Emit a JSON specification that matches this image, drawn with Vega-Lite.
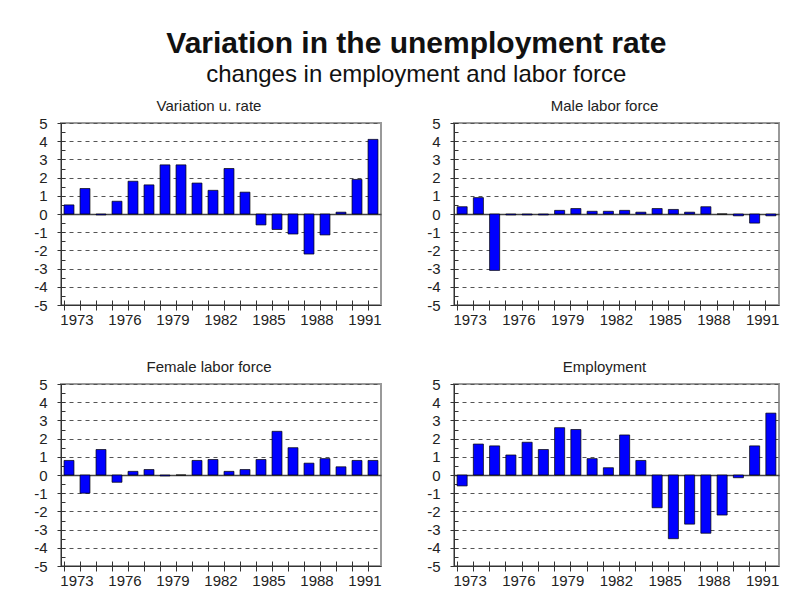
{
  "$schema": "https://vega.github.io/schema/vega-lite/v6.json",
  "background": "white",
  "padding": {"top": 29, "left": 32, "right": 10, "bottom": 10},
  "title": {
    "text": "Variation in the unemployment rate",
    "subtitle": "changes in employment and labor force",
    "anchor": "middle",
    "dx": 10,
    "font": "Liberation Sans",
    "fontSize": 30,
    "fontWeight": "bold",
    "color": "#111111",
    "subtitleFont": "Liberation Sans",
    "subtitleFontSize": 24,
    "subtitleColor": "#111111",
    "subtitlePadding": 4,
    "offset": 11
  },
  "datasets": {
    "d": [
      {"series": "rate", "year": 1973, "value": 0.5},
      {"series": "rate", "year": 1974, "value": 1.4},
      {"series": "rate", "year": 1975, "value": -0.05},
      {"series": "rate", "year": 1976, "value": 0.7},
      {"series": "rate", "year": 1977, "value": 1.8},
      {"series": "rate", "year": 1978, "value": 1.6},
      {"series": "rate", "year": 1979, "value": 2.7},
      {"series": "rate", "year": 1980, "value": 2.7},
      {"series": "rate", "year": 1981, "value": 1.7},
      {"series": "rate", "year": 1982, "value": 1.3},
      {"series": "rate", "year": 1983, "value": 2.5},
      {"series": "rate", "year": 1984, "value": 1.2},
      {"series": "rate", "year": 1985, "value": -0.6},
      {"series": "rate", "year": 1986, "value": -0.85},
      {"series": "rate", "year": 1987, "value": -1.1},
      {"series": "rate", "year": 1988, "value": -2.2},
      {"series": "rate", "year": 1989, "value": -1.15},
      {"series": "rate", "year": 1990, "value": 0.1},
      {"series": "rate", "year": 1991, "value": 1.9},
      {"series": "rate", "year": 1992, "value": 4.1},
      {"series": "male", "year": 1973, "value": 0.4},
      {"series": "male", "year": 1974, "value": 0.9},
      {"series": "male", "year": 1975, "value": -3.1},
      {"series": "male", "year": 1976, "value": -0.05},
      {"series": "male", "year": 1977, "value": -0.05},
      {"series": "male", "year": 1978, "value": -0.05},
      {"series": "male", "year": 1979, "value": 0.2},
      {"series": "male", "year": 1980, "value": 0.3},
      {"series": "male", "year": 1981, "value": 0.15},
      {"series": "male", "year": 1982, "value": 0.15},
      {"series": "male", "year": 1983, "value": 0.2},
      {"series": "male", "year": 1984, "value": 0.1},
      {"series": "male", "year": 1985, "value": 0.3},
      {"series": "male", "year": 1986, "value": 0.25},
      {"series": "male", "year": 1987, "value": 0.1},
      {"series": "male", "year": 1988, "value": 0.4},
      {"series": "male", "year": 1989, "value": 0},
      {"series": "male", "year": 1990, "value": -0.1},
      {"series": "male", "year": 1991, "value": -0.5},
      {"series": "male", "year": 1992, "value": -0.1},
      {"series": "female", "year": 1973, "value": 0.8},
      {"series": "female", "year": 1974, "value": -1.0},
      {"series": "female", "year": 1975, "value": 1.4},
      {"series": "female", "year": 1976, "value": -0.4},
      {"series": "female", "year": 1977, "value": 0.2},
      {"series": "female", "year": 1978, "value": 0.3},
      {"series": "female", "year": 1979, "value": -0.05},
      {"series": "female", "year": 1980, "value": 0},
      {"series": "female", "year": 1981, "value": 0.8},
      {"series": "female", "year": 1982, "value": 0.85},
      {"series": "female", "year": 1983, "value": 0.2},
      {"series": "female", "year": 1984, "value": 0.3},
      {"series": "female", "year": 1985, "value": 0.85},
      {"series": "female", "year": 1986, "value": 2.4},
      {"series": "female", "year": 1987, "value": 1.5},
      {"series": "female", "year": 1988, "value": 0.65},
      {"series": "female", "year": 1989, "value": 0.9},
      {"series": "female", "year": 1990, "value": 0.45},
      {"series": "female", "year": 1991, "value": 0.8},
      {"series": "female", "year": 1992, "value": 0.8},
      {"series": "emp", "year": 1973, "value": -0.6},
      {"series": "emp", "year": 1974, "value": 1.7},
      {"series": "emp", "year": 1975, "value": 1.6},
      {"series": "emp", "year": 1976, "value": 1.1},
      {"series": "emp", "year": 1977, "value": 1.8},
      {"series": "emp", "year": 1978, "value": 1.4},
      {"series": "emp", "year": 1979, "value": 2.6},
      {"series": "emp", "year": 1980, "value": 2.5},
      {"series": "emp", "year": 1981, "value": 0.9},
      {"series": "emp", "year": 1982, "value": 0.4},
      {"series": "emp", "year": 1983, "value": 2.2},
      {"series": "emp", "year": 1984, "value": 0.8},
      {"series": "emp", "year": 1985, "value": -1.8},
      {"series": "emp", "year": 1986, "value": -3.5},
      {"series": "emp", "year": 1987, "value": -2.7},
      {"series": "emp", "year": 1988, "value": -3.2},
      {"series": "emp", "year": 1989, "value": -2.2},
      {"series": "emp", "year": 1990, "value": -0.15},
      {"series": "emp", "year": 1991, "value": 1.6},
      {"series": "emp", "year": 1992, "value": 3.4}
    ]
  },
  "columns": 2,
  "align": "each",
  "spacing": {"row": 31, "column": 42},
  "concat": [
    {
      "title": {"text": "Variation u. rate"},
      "data": {"name": "d"},
      "transform": [{"filter": "datum.series === 'rate'"}],
      "width": 320, "height": 182,
      "layer": [
        {
          "mark": {"type": "bar", "fill": "#0000ff", "stroke": "#000000", "strokeWidth": 0.7},
          "encoding": {
            "x": {"field": "year", "type": "ordinal", "scale": {"paddingInner": 0.38, "paddingOuter": 0.19},
              "axis": {"orient": "bottom", "bandPosition": 0, "tickSize": 5, "labelPadding": 2, "labelOffset": 8, "labelAngle": 0, "labelOverlap": false, "labelExpr": "(datum.value - 1973) % 3 === 0 ? '' + datum.value : ''", "grid": false, "title": null}},
            "y": {"field": "value", "type": "quantitative", "scale": {"domain": [-5, 5], "nice": false},
              "axis": {"orient": "left", "values": [-5,-4,-3,-2,-1,0,1,2,3,4,5], "tickSize": 4, "labelPadding": 10, "labelExpr": "'' + datum.value", "grid": true,
                "gridColor": {"condition": {"test": "datum.value === 0", "value": "#444444"}, "value": "#555555"},
                "gridDash": {"condition": {"test": "datum.value === 0", "value": [1, 0]}, "value": [4, 4]},
                "gridWidth": {"condition": {"test": "datum.value === 0", "value": 1.5}, "value": 1},
                "title": null}}
          }
        },
        {
          "mark": {"type": "bar", "opacity": 0},
          "encoding": {
            "x": {"field": "year", "type": "ordinal", "axis": {"orient": "bottom", "offset": -5, "bandPosition": 0, "tickSize": 5, "labels": false, "domain": false, "grid": false, "title": null}},
            "y": {"field": "value", "type": "quantitative", "axis": {"orient": "left", "offset": -4, "values": [-5,-4.5,-4,-3.5,-3,-2.5,-2,-1.5,-1,-0.5,0,0.5,1,1.5,2,2.5,3,3.5,4,4.5,5], "tickSize": 4, "labels": false, "domain": false, "grid": false, "title": null}}
          }
        }
      ],
      "resolve": {"axis": {"x": "independent", "y": "independent"}}
    },
    {
      "title": {"text": "Male labor force"},
      "data": {"name": "d"},
      "transform": [{"filter": "datum.series === 'male'"}],
      "width": 325, "height": 182,
      "layer": [
        {
          "mark": {"type": "bar", "fill": "#0000ff", "stroke": "#000000", "strokeWidth": 0.7},
          "encoding": {
            "x": {"field": "year", "type": "ordinal", "scale": {"paddingInner": 0.38, "paddingOuter": 0.19},
              "axis": {"orient": "bottom", "bandPosition": 0, "tickSize": 5, "labelPadding": 2, "labelOffset": 8, "labelAngle": 0, "labelOverlap": false, "labelExpr": "(datum.value - 1973) % 3 === 0 ? '' + datum.value : ''", "grid": false, "title": null}},
            "y": {"field": "value", "type": "quantitative", "scale": {"domain": [-5, 5], "nice": false},
              "axis": {"orient": "left", "values": [-5,-4,-3,-2,-1,0,1,2,3,4,5], "tickSize": 4, "labelPadding": 10, "labelExpr": "'' + datum.value", "grid": true,
                "gridColor": {"condition": {"test": "datum.value === 0", "value": "#444444"}, "value": "#555555"},
                "gridDash": {"condition": {"test": "datum.value === 0", "value": [1, 0]}, "value": [4, 4]},
                "gridWidth": {"condition": {"test": "datum.value === 0", "value": 1.5}, "value": 1},
                "title": null}}
          }
        },
        {
          "mark": {"type": "bar", "opacity": 0},
          "encoding": {
            "x": {"field": "year", "type": "ordinal", "axis": {"orient": "bottom", "offset": -5, "bandPosition": 0, "tickSize": 5, "labels": false, "domain": false, "grid": false, "title": null}},
            "y": {"field": "value", "type": "quantitative", "axis": {"orient": "left", "offset": -4, "values": [-5,-4.5,-4,-3.5,-3,-2.5,-2,-1.5,-1,-0.5,0,0.5,1,1.5,2,2.5,3,3.5,4,4.5,5], "tickSize": 4, "labels": false, "domain": false, "grid": false, "title": null}}
          }
        }
      ],
      "resolve": {"axis": {"x": "independent", "y": "independent"}}
    },
    {
      "title": {"text": "Female labor force"},
      "data": {"name": "d"},
      "transform": [{"filter": "datum.series === 'female'"}],
      "width": 320, "height": 182,
      "layer": [
        {
          "mark": {"type": "bar", "fill": "#0000ff", "stroke": "#000000", "strokeWidth": 0.7},
          "encoding": {
            "x": {"field": "year", "type": "ordinal", "scale": {"paddingInner": 0.38, "paddingOuter": 0.19},
              "axis": {"orient": "bottom", "bandPosition": 0, "tickSize": 5, "labelPadding": 2, "labelOffset": 8, "labelAngle": 0, "labelOverlap": false, "labelExpr": "(datum.value - 1973) % 3 === 0 ? '' + datum.value : ''", "grid": false, "title": null}},
            "y": {"field": "value", "type": "quantitative", "scale": {"domain": [-5, 5], "nice": false},
              "axis": {"orient": "left", "values": [-5,-4,-3,-2,-1,0,1,2,3,4,5], "tickSize": 4, "labelPadding": 10, "labelExpr": "'' + datum.value", "grid": true,
                "gridColor": {"condition": {"test": "datum.value === 0", "value": "#444444"}, "value": "#555555"},
                "gridDash": {"condition": {"test": "datum.value === 0", "value": [1, 0]}, "value": [4, 4]},
                "gridWidth": {"condition": {"test": "datum.value === 0", "value": 1.5}, "value": 1},
                "title": null}}
          }
        },
        {
          "mark": {"type": "bar", "opacity": 0},
          "encoding": {
            "x": {"field": "year", "type": "ordinal", "axis": {"orient": "bottom", "offset": -5, "bandPosition": 0, "tickSize": 5, "labels": false, "domain": false, "grid": false, "title": null}},
            "y": {"field": "value", "type": "quantitative", "axis": {"orient": "left", "offset": -4, "values": [-5,-4.5,-4,-3.5,-3,-2.5,-2,-1.5,-1,-0.5,0,0.5,1,1.5,2,2.5,3,3.5,4,4.5,5], "tickSize": 4, "labels": false, "domain": false, "grid": false, "title": null}}
          }
        }
      ],
      "resolve": {"axis": {"x": "independent", "y": "independent"}}
    },
    {
      "title": {"text": "Employment"},
      "data": {"name": "d"},
      "transform": [{"filter": "datum.series === 'emp'"}],
      "width": 325, "height": 182,
      "layer": [
        {
          "mark": {"type": "bar", "fill": "#0000ff", "stroke": "#000000", "strokeWidth": 0.7},
          "encoding": {
            "x": {"field": "year", "type": "ordinal", "scale": {"paddingInner": 0.38, "paddingOuter": 0.19},
              "axis": {"orient": "bottom", "bandPosition": 0, "tickSize": 5, "labelPadding": 2, "labelOffset": 8, "labelAngle": 0, "labelOverlap": false, "labelExpr": "(datum.value - 1973) % 3 === 0 ? '' + datum.value : ''", "grid": false, "title": null}},
            "y": {"field": "value", "type": "quantitative", "scale": {"domain": [-5, 5], "nice": false},
              "axis": {"orient": "left", "values": [-5,-4,-3,-2,-1,0,1,2,3,4,5], "tickSize": 4, "labelPadding": 10, "labelExpr": "'' + datum.value", "grid": true,
                "gridColor": {"condition": {"test": "datum.value === 0", "value": "#444444"}, "value": "#555555"},
                "gridDash": {"condition": {"test": "datum.value === 0", "value": [1, 0]}, "value": [4, 4]},
                "gridWidth": {"condition": {"test": "datum.value === 0", "value": 1.5}, "value": 1},
                "title": null}}
          }
        },
        {
          "mark": {"type": "bar", "opacity": 0},
          "encoding": {
            "x": {"field": "year", "type": "ordinal", "axis": {"orient": "bottom", "offset": -5, "bandPosition": 0, "tickSize": 5, "labels": false, "domain": false, "grid": false, "title": null}},
            "y": {"field": "value", "type": "quantitative", "axis": {"orient": "left", "offset": -4, "values": [-5,-4.5,-4,-3.5,-3,-2.5,-2,-1.5,-1,-0.5,0,0.5,1,1.5,2,2.5,3,3.5,4,4.5,5], "tickSize": 4, "labels": false, "domain": false, "grid": false, "title": null}}
          }
        }
      ],
      "resolve": {"axis": {"x": "independent", "y": "independent"}}
    }
  ],
  "config": {
    "font": "Liberation Sans",
    "view": {"stroke": "#999999", "strokeWidth": 2},
    "axis": {"labelFont": "Liberation Sans", "labelFontSize": 15, "labelColor": "#222222", "domainColor": "#333333", "tickColor": "#333333", "domainWidth": 1, "tickWidth": 1},
    "title": {"font": "Liberation Sans", "fontSize": 15, "fontWeight": "normal", "color": "#222222", "anchor": "middle", "offset": 2, "dx": -12}
  }
}
